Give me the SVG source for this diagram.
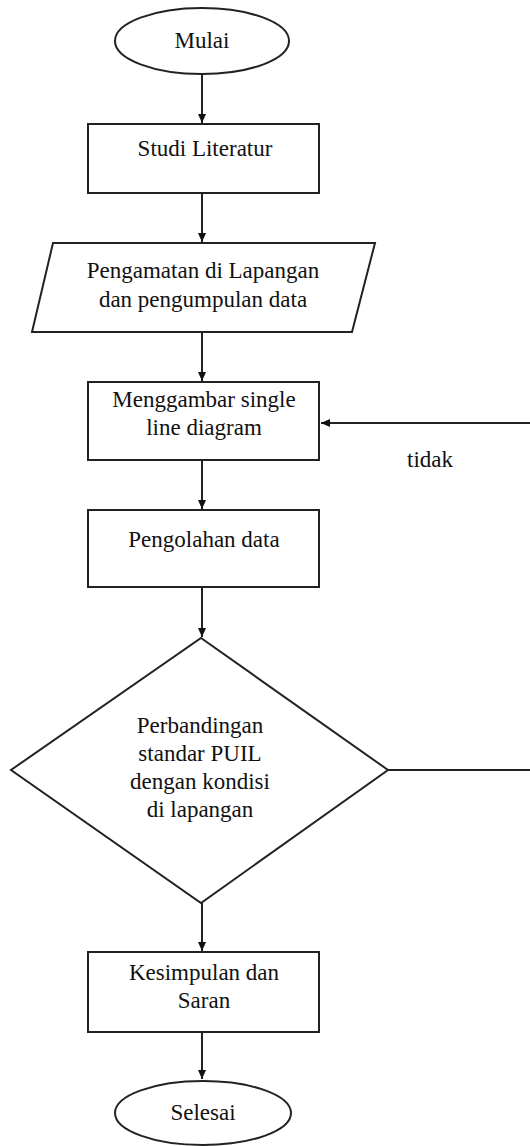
<svg xmlns="http://www.w3.org/2000/svg" width="530" height="1146" viewBox="0 0 530 1146">
<style>
.s{fill:#fff;stroke:#222;stroke-width:2}
.t{font-family:"Liberation Serif","Times New Roman",serif;font-size:23px;fill:#111;text-anchor:middle}
.c{fill:none;stroke:#222;stroke-width:2}
</style>
<defs>
<marker id="ah" markerWidth="10" markerHeight="10" refX="9" refY="5" orient="auto" markerUnits="userSpaceOnUse">
<path d="M0,1 L9,5 L0,9 Z" fill="#111"/>
</marker>
</defs>
<rect width="530" height="1146" fill="#fff"/>
<g id="connectors">
<line class="c" x1="202" y1="75" x2="202" y2="123" marker-end="url(#ah)"/>
<line class="c" x1="202" y1="193" x2="202" y2="242" marker-end="url(#ah)"/>
<line class="c" x1="202" y1="333" x2="202" y2="381" marker-end="url(#ah)"/>
<line class="c" x1="202" y1="460" x2="202" y2="509" marker-end="url(#ah)"/>
<line class="c" x1="202" y1="587" x2="202" y2="637" marker-end="url(#ah)"/>
<line class="c" x1="202" y1="903" x2="202" y2="951" marker-end="url(#ah)"/>
<line class="c" x1="202" y1="1032" x2="202" y2="1079" marker-end="url(#ah)"/>
<polyline class="c" points="388,770 545,770 545,423 321,423" marker-end="url(#ah)"/>
<text class="t" x="430" y="467">tidak</text>
</g>
<g id="mulai">
<ellipse class="s" cx="202" cy="41" rx="87" ry="33"/>
<text class="t" x="202" y="48">Mulai</text>
</g>
<g id="studi">
<rect class="s" x="88" y="124" width="231" height="69"/>
<text class="t" x="205" y="156">Studi Literatur</text>
</g>
<g id="pengamatan">
<polygon class="s" points="53,243 375,243 352,332 32,332"/>
<text class="t" x="203" y="278">Pengamatan di Lapangan</text>
<text class="t" x="203" y="307">dan pengumpulan data</text>
</g>
<g id="menggambar">
<rect class="s" x="88" y="382" width="231" height="78"/>
<text class="t" x="204" y="407">Menggambar single</text>
<text class="t" x="204" y="435">line diagram</text>
</g>
<g id="pengolahan">
<rect class="s" x="88" y="510" width="231" height="77"/>
<text class="t" x="204" y="547">Pengolahan data</text>
</g>
<g id="perbandingan">
<polygon class="s" points="201,638 388,770 201,903 11,770"/>
<text class="t" x="200" y="733">Perbandingan</text>
<text class="t" x="200" y="761">standar PUIL</text>
<text class="t" x="200" y="789">dengan kondisi</text>
<text class="t" x="200" y="817">di lapangan</text>
</g>
<g id="kesimpulan">
<rect class="s" x="88" y="952" width="231" height="80"/>
<text class="t" x="204" y="980">Kesimpulan dan</text>
<text class="t" x="204" y="1008">Saran</text>
</g>
<g id="selesai">
<ellipse class="s" cx="203" cy="1113" rx="88" ry="32"/>
<text class="t" x="203" y="1120">Selesai</text>
</g>
</svg>
